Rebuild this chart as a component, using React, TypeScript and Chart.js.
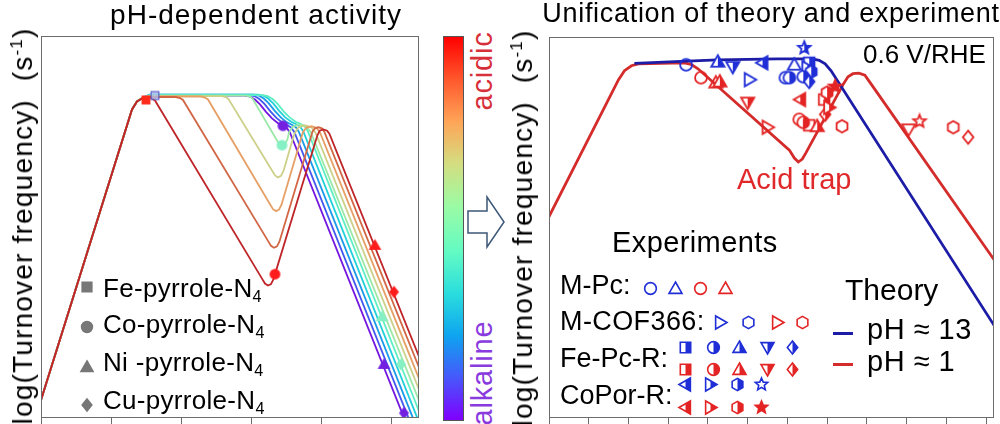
import React, { useEffect, useMemo, useRef } from "react";
import { Chart, registerables } from "chart.js";

Chart.register(...registerables);

const FONT = '"Liberation Sans", Arial, Helvetica, sans-serif';

type Pt = [number, number];
type Shape = "circle" | "square" | "diamond" | "triUp" | "triDown" | "triLeft" | "triRight" | "hexagon" | "star";
type Fill = "open" | "half" | "full" | "tint";
interface Mk { x: number; y: number; s: Shape; f: Fill; c: string; }

// ---------------- Left panel: pH-dependent activity ----------------
// x: descriptor (arb. units), y: log(TOF) (arb. units)
const leftTickVals = [0, 7, 14, 21, 28, 35];
const sharedRise: Pt[] = [[-0.5, 0.2], [9.1, 31.1], [9.6, 31.9]];
// alkaline (0) -> acidic (9)
const curve0: Pt[] = [[10.2, 32.3], [10.9, 32.5], [20.4, 32.5], [20.9, 32.4], [21.4, 32.1], [21.9, 31.6], [22.5, 30.85], [23.1, 30.2], [23.7, 29.7], [24.2, 29.45], [24.6, 29.2], [24.9, 28.75], [36.67, -0.9]];
const curve1: Pt[] = [[10.2, 32.3], [10.9, 32.55], [20.84, 32.55], [21.34, 32.45], [21.84, 32.15], [22.34, 31.65], [22.94, 30.9], [23.54, 30.25], [24.14, 29.75], [24.64, 29.5], [25.04, 29.25], [25.34, 28.8], [37.11, -0.9]];
const curve2: Pt[] = [[10.2, 32.3], [10.9, 32.6], [21.28, 32.6], [21.78, 32.5], [22.28, 32.2], [22.78, 31.7], [23.38, 30.95], [23.98, 30.3], [24.58, 29.8], [25.08, 29.55], [25.48, 29.3], [25.78, 28.85], [37.55, -0.9]];
const curve3: Pt[] = [[10.2, 32.3], [10.9, 32.6], [21.72, 32.6], [22.22, 32.5], [22.72, 32.2], [23.22, 31.7], [23.82, 30.95], [24.42, 30.3], [25.02, 29.85], [25.52, 29.6], [25.92, 29.35], [26.22, 28.9], [37.99, -0.9]];
const curve4: Pt[] = [[10.2, 32.3], [10.9, 32.55], [22.16, 32.55], [22.66, 32.45], [23.16, 32.15], [23.66, 31.65], [24.26, 30.9], [24.86, 30.3], [25.46, 29.85], [25.96, 29.65], [26.36, 29.4], [26.66, 28.95], [38.43, -0.9]];
const curve5: Pt[] = [[10.2, 32.3], [10.9, 32.5], [20.5, 32.5], [20.9, 32.4], [21.15, 32.2], [23.5, 28.15], [23.8, 27.65], [24.1, 27.45], [24.4, 27.6], [24.65, 28.1], [24.8, 28.8], [25.2, 29.38], [25.87, 29.6], [26.54, 29.38], [26.98, 28.81], [38.87, -0.9]];
const curve6: Pt[] = [[10.2, 32.3], [10.9, 32.45], [18.1, 32.45], [18.5, 32.35], [18.75, 32.15], [23.1, 24.95], [23.4, 24.45], [23.7, 24.25], [24.0, 24.4], [24.25, 24.9], [25.32, 28.6], [25.74, 29.3], [26.39, 29.5], [27.04, 29.3], [27.46, 28.74], [39.31, -0.9]];
const curve7: Pt[] = [[10.2, 32.3], [10.9, 32.4], [16.0, 32.4], [16.4, 32.3], [16.7, 32.1], [22.9, 21.55], [23.2, 21.05], [23.5, 20.85], [23.8, 21.0], [24.05, 21.5], [26.19, 28.8], [26.52, 29.24], [27.04, 29.4], [27.56, 29.24], [27.89, 28.8], [39.75, -0.9]];
const curve8: Pt[] = [[10.2, 32.3], [10.9, 32.35], [13.5, 32.35], [13.9, 32.25], [14.2, 32.05], [22.7, 17.85], [23.0, 17.35], [23.3, 17.15], [23.6, 17.3], [23.85, 17.8], [27.16, 28.89], [27.39, 29.19], [27.74, 29.3], [28.09, 29.19], [28.32, 28.89], [40.19, -0.9]];
const curve9: Pt[] = [[10.2, 32.25], [10.9, 32.3], [11.4, 32.0], [22.1, 14.05], [22.4, 13.55], [22.7, 13.35], [23.0, 13.5], [23.25, 14.0], [27.64, 28.5], [27.87, 28.96], [28.24, 29.08], [28.61, 28.96], [28.84, 28.65], [40.63, -0.9]];
const leftCurves = [curve0, curve1, curve2, curve3, curve4, curve5, curve6, curve7, curve8, curve9];
const leftColors = ["#7418e0", "#4458ee", "#1a9ae8", "#22d0da", "#5eeec4", "#9ce8a6", "#ccd088", "#e6a066", "#d26644", "#be2428"];

const MRED = "#ff1c1c";
const MMINT = "#86f0c4";
const MPURP = "#7420e0";
const feMarkers: Mk[] = [
  { x: 10.5, y: 32.05, s: "square", f: "full", c: "#ff2a1a" },
  { x: 11.4, y: 32.5, s: "square", f: "tint", c: "#6060c8" },
];
const coMarkers: Mk[] = [
  { x: 23.4, y: 14.5, s: "circle", f: "full", c: MRED },
  { x: 24.1, y: 27.5, s: "circle", f: "full", c: MMINT },
  { x: 24.2, y: 29.45, s: "circle", f: "full", c: MPURP },
];
const niMarkers: Mk[] = [
  { x: 33.4, y: 17.4, s: "triUp", f: "full", c: MRED },
  { x: 34.1, y: 10.2, s: "triUp", f: "full", c: MMINT },
  { x: 34.3, y: 5.4, s: "triUp", f: "full", c: MPURP },
];
const cuMarkers: Mk[] = [
  { x: 35.3, y: 12.7, s: "diamond", f: "full", c: MRED },
  { x: 36.0, y: 5.4, s: "diamond", f: "full", c: MMINT },
  { x: 36.3, y: 0.5, s: "diamond", f: "full", c: MPURP },
];
const leftLegendLabels = ["Fe-pyrrole-N", "Co-pyrrole-N", "Ni -pyrrole-N", "Cu-pyrrole-N"];
const leftLegendShapes: Shape[] = ["square", "circle", "triUp", "diamond"];

// ---------------- Right panel: theory vs experiment ----------------
const rightTickVals = [0, 1, 2, 3, 4, 5, 6, 7, 8, 9, 10, 11];
const theoryAcid: Pt[] = [[-0.125, 19.31], [1.75, 34.1], [1.9, 35.0], [2.075, 35.5], [2.25, 35.7], [3.4, 35.8], [3.575, 35.65], [3.75, 35.2], [6.05, 27.0], [6.175, 26.2], [6.275, 25.8], [6.375, 26.1], [6.4625, 26.7], [7.4, 33.6], [7.525, 34.4], [7.65, 34.7], [7.8, 34.75], [7.95, 34.55], [8.1, 33.7], [14.145, -0.9]];
const theoryAlk: Pt[] = [[2.15, 35.75], [3.325, 35.95], [4.25, 36.1], [5.75, 36.2], [6.625, 36.2], [6.8, 36.05], [6.95, 35.7], [7.1, 35.0], [12.8375, -0.9]];
const BLUE = "#1f2ed6";
const RED = "#e42424";
const LINE_BLUE = "#1c1ca6";
const LINE_RED = "#d42b2b";

const alkExp: Mk[] = [
  { x: 3.45, y: 35.6, s: "circle", f: "open", c: BLUE },
  { x: 4.25, y: 35.9, s: "triUp", f: "half", c: BLUE },
  { x: 4.625, y: 35.4, s: "triDown", f: "half", c: BLUE },
  { x: 5.375, y: 35.8, s: "triLeft", f: "half", c: BLUE },
  { x: 6.175, y: 35.6, s: "triUp", f: "open", c: BLUE },
  { x: 6.425, y: 37.3, s: "star", f: "half", c: BLUE },
  { x: 5.05, y: 34.1, s: "triRight", f: "open", c: BLUE },
  { x: 5.95, y: 34.3, s: "circle", f: "open", c: BLUE },
  { x: 6.05, y: 34.3, s: "circle", f: "half", c: BLUE },
  { x: 6.55, y: 35.8, s: "square", f: "half", c: BLUE },
  { x: 6.5, y: 35.3, s: "triRight", f: "half", c: BLUE },
  { x: 6.6, y: 34.9, s: "hexagon", f: "half", c: BLUE },
  { x: 6.4, y: 34.4, s: "circle", f: "half", c: BLUE },
  { x: 6.55, y: 33.9, s: "diamond", f: "half", c: BLUE },
];
const acidExp: Mk[] = [
  { x: 3.825, y: 34.3, s: "circle", f: "open", c: RED },
  { x: 4.2, y: 33.8, s: "triUp", f: "open", c: RED },
  { x: 4.3, y: 33.9, s: "triUp", f: "half", c: RED },
  { x: 5.0, y: 31.8, s: "triDown", f: "half", c: RED },
  { x: 5.5, y: 29.3, s: "triRight", f: "open", c: RED },
  { x: 6.325, y: 32.1, s: "triLeft", f: "half", c: RED },
  { x: 6.925, y: 32.1, s: "square", f: "half", c: RED },
  { x: 7.0, y: 32.8, s: "hexagon", f: "half", c: RED },
  { x: 7.2, y: 33.4, s: "star", f: "full", c: RED },
  { x: 6.3, y: 30.1, s: "circle", f: "open", c: RED },
  { x: 6.4, y: 29.8, s: "circle", f: "half", c: RED },
  { x: 6.55, y: 29.5, s: "square", f: "open", c: RED },
  { x: 6.75, y: 29.4, s: "triUp", f: "half", c: RED },
  { x: 6.95, y: 30.6, s: "diamond", f: "half", c: RED },
  { x: 7.05, y: 31.3, s: "triRight", f: "half", c: RED },
  { x: 7.375, y: 29.4, s: "hexagon", f: "open", c: RED },
  { x: 9.05, y: 29.1, s: "triDown", f: "open", c: RED },
  { x: 9.325, y: 29.9, s: "star", f: "open", c: RED },
  { x: 10.175, y: 29.3, s: "hexagon", f: "open", c: RED },
  { x: 10.55, y: 28.3, s: "diamond", f: "open", c: RED },
];

const mpcShapes: Shape[] = ["circle", "triUp"];
const cofShapes: Shape[] = ["triRight", "hexagon"];
const fepcShapes: Shape[] = ["square", "circle", "triUp", "triDown", "diamond"];
const coporShapes: Shape[] = ["triLeft", "triRight", "hexagon", "star"];

// ---------------- marker drawing ----------------
function shapePath(ctx: CanvasRenderingContext2D, s: Shape, r: number) {
  ctx.beginPath();
  const poly = (pts: number[][]) => {
    pts.forEach(([x, y], i) => (i ? ctx.lineTo(x, y) : ctx.moveTo(x, y)));
    ctx.closePath();
  };
  switch (s) {
    case "circle": ctx.arc(0, 0, r * 0.9, 0, Math.PI * 2); break;
    case "square": ctx.rect(-r * 0.8, -r * 0.8, r * 1.6, r * 1.6); break;
    case "diamond": poly([[0, -r], [r * 0.8, 0], [0, r], [-r * 0.8, 0]]); break;
    case "triUp": poly([[0, -r], [r, r * 0.75], [-r, r * 0.75]]); break;
    case "triDown": poly([[0, r], [r, -r * 0.75], [-r, -r * 0.75]]); break;
    case "triLeft": poly([[-r, 0], [r * 0.75, -r], [r * 0.75, r]]); break;
    case "triRight": poly([[r, 0], [-r * 0.75, -r], [-r * 0.75, r]]); break;
    case "hexagon": {
      const p: number[][] = [];
      for (let k = 0; k < 6; k++) { const a = -Math.PI / 2 + (k * Math.PI) / 3; p.push([r * 0.95 * Math.cos(a), r * 0.95 * Math.sin(a)]); }
      poly(p); break;
    }
    case "star": {
      const p: number[][] = [];
      for (let k = 0; k < 10; k++) { const a = -Math.PI / 2 + (k * Math.PI) / 5; const rr = k % 2 ? r * 0.45 : r; p.push([rr * Math.cos(a), rr * Math.sin(a)]); }
      poly(p); break;
    }
  }
}

const markerCache = new Map<string, HTMLCanvasElement>();
function marker(s: Shape, f: Fill, c: string, r: number, lw = 1.4): HTMLCanvasElement {
  const key = [s, f, c, r, lw].join("|");
  const hit = markerCache.get(key);
  if (hit) return hit;
  const cv = document.createElement("canvas");
  const size = Math.ceil(r * 2 + 4);
  cv.width = size;
  cv.height = size;
  const ctx = cv.getContext("2d")!;
  ctx.translate(size / 2, size / 2);
  ctx.lineWidth = lw;
  ctx.strokeStyle = c;
  ctx.lineJoin = "miter";
  if (f === "full") {
    shapePath(ctx, s, r); ctx.fillStyle = c; ctx.fill(); ctx.stroke();
  } else if (f === "open") {
    shapePath(ctx, s, r); ctx.stroke();
  } else if (f === "tint") {
    shapePath(ctx, s, r); ctx.fillStyle = "rgba(175,195,240,0.75)"; ctx.fill(); ctx.stroke();
  } else {
    shapePath(ctx, s, r); ctx.fillStyle = "#ffffff"; ctx.fill();
    ctx.save();
    ctx.beginPath(); ctx.rect(0, -size, size, size * 2); ctx.clip();
    shapePath(ctx, s, r); ctx.fillStyle = c; ctx.fill();
    ctx.restore();
    shapePath(ctx, s, r); ctx.stroke();
  }
  markerCache.set(key, cv);
  return cv;
}

const framePlugin = {
  id: "frame",
  afterDraw(chart: any) {
    const { ctx, chartArea: a } = chart;
    ctx.save();
    ctx.strokeStyle = "#6c6c6c";
    ctx.lineWidth = 1;
    ctx.strokeRect(Math.round(a.left) + 0.5, Math.round(a.top) + 0.5, Math.round(a.right - a.left) - 1, Math.round(a.bottom - a.top) - 1);
    ctx.restore();
  },
};

function toXY(p: Pt[]) { return p.map(([x, y]) => ({ x, y })); }

function xAxis(max: number, ticks: number[]) {
  return {
    type: "linear", min: 0, max,
    ticks: { display: false },
    grid: { display: true, drawOnChartArea: false, drawTicks: true, tickLength: 6, color: "#6c6c6c", lineWidth: 1 },
    border: { display: false },
    afterBuildTicks: (s: any) => { s.ticks = ticks.map((v) => ({ value: v })); },
    afterFit: (s: any) => { s.height = 0; },
  };
}

function baseOptions(pad: any, xMax: number, yMax: number, ticks: number[]) {
  return {
    animation: false,
    responsive: false,
    events: [],
    layout: { padding: pad },
    plugins: { legend: { display: false }, tooltip: { enabled: false } },
    scales: {
      x: xAxis(xMax, ticks),
      y: { type: "linear", min: 0, max: yMax, display: false },
    },
  };
}

function leftConfig(): any {
  const mk = [...feMarkers, ...coMarkers, ...niMarkers, ...cuMarkers];
  const datasets: any[] = [
    {
      data: mk.map((m) => ({ x: m.x, y: m.y })),
      pointStyle: mk.map((m) => marker(m.s, m.f, m.c, m.s === "square" ? 4.8 : 5.3, 1.2)),
      pointRadius: 5, showLine: false,
    },
  ];
  for (let i = leftCurves.length - 1; i >= 0; i--) {
    datasets.push({
      data: toXY([...sharedRise, ...leftCurves[i]]),
      showLine: true, borderColor: leftColors[i], borderWidth: 1.8, pointRadius: 0, tension: 0,
    });
  }
  return {
    type: "scatter",
    data: { datasets },
    options: baseOptions({ left: 41, top: 36, right: 21, bottom: 3 }, 37.8, 38.5, leftTickVals),
    plugins: [framePlugin],
  };
}

function rightConfig(): any {
  const mk = [...alkExp, ...acidExp];
  const datasets: any[] = [
    {
      data: mk.map((m) => ({ x: m.x, y: m.y })),
      pointStyle: mk.map((m) => marker(m.s, m.f, m.c, 6.6, 1.8)),
      pointRadius: 5, showLine: false,
    },
    { data: toXY(theoryAlk), showLine: true, borderColor: LINE_BLUE, borderWidth: 2.8, pointRadius: 0, tension: 0 },
    { data: toXY(theoryAcid), showLine: true, borderColor: LINE_RED, borderWidth: 2.8, pointRadius: 0, tension: 0 },
  ];
  return {
    type: "scatter",
    data: { datasets },
    options: baseOptions({ left: 19, top: 37, right: 3, bottom: 3 }, 11.2, 38.4, rightTickVals),
    plugins: [framePlugin],
  };
}

function ChartCanvas({ make, left, width }: { make: () => any; left: number; width: number }) {
  const ref = useRef<HTMLCanvasElement>(null);
  useEffect(() => {
    const chart = new Chart(ref.current!, make());
    return () => chart.destroy();
  }, []);
  return <canvas ref={ref} width={width} height={424} style={{ position: "absolute", left, top: 0, width, height: 424 }} />;
}

function T({ x, y, size, color = "#000", anchor = "start", ls = 0, children }: any) {
  const style: any = {
    position: "absolute", left: x, top: y - size * 0.8465, fontSize: size, lineHeight: size + "px",
    color, whiteSpace: "nowrap", letterSpacing: ls,
  };
  if (anchor === "middle") style.transform = "translateX(-50%)";
  return <div style={style}>{children}</div>;
}

function VT({ cx, cy, size, color = "#000", ls = 0, children }: any) {
  return (
    <div style={{
      position: "absolute", left: cx, top: cy, fontSize: size, lineHeight: size + "px", color,
      whiteSpace: "nowrap", letterSpacing: ls, transform: "translate(-50%, -50%) rotate(-90deg)",
    }}>{children}</div>
  );
}

function Glyph({ cx, cy, url, size }: { cx: number; cy: number; url: string; size: number }) {
  return <img src={url} style={{ position: "absolute", left: cx - size / 2, top: cy - size / 2, width: size, height: size }} />;
}

const Sub = ({ children }: any) => (
  <span style={{ fontSize: "0.62em", verticalAlign: "-0.3em", lineHeight: 0 }}>{children}</span>
);
const Sup = ({ children }: any) => (
  <span style={{ fontSize: "0.6em", verticalAlign: "0.6em", lineHeight: 0 }}>{children}</span>
);

export default function App() {
  const glyphs = useMemo(() => {
    const g = (s: Shape, f: Fill, c: string, r: number) => {
      const cv = marker(s, f, c, r, 1.6);
      return { url: cv.toDataURL(), size: cv.width };
    };
    const items: { cx: number; cy: number; url: string; size: number }[] = [];
    // left legend
    const leftY = [287, 327, 367, 405];
    leftLegendShapes.forEach((s, i) => items.push({ cx: 87, cy: leftY[i], ...g(s, "full", "#777777", 6) }));
    // M-Pc
    [650, 675, 700, 725].forEach((x, i) => items.push({ cx: x, cy: 288, ...g(mpcShapes[i % 2], "open", i < 2 ? BLUE : RED, 6.5) }));
    // M-COF366
    [720, 748, 777, 802].forEach((x, i) => items.push({ cx: x, cy: 322, ...g(cofShapes[i % 2], "open", i < 2 ? BLUE : RED, 6.5) }));
    // Fe-Pc-R
    [685, 713, 739, 767, 792].forEach((x, i) => {
      items.push({ cx: x, cy: 347, ...g(fepcShapes[i], "half", BLUE, 6.5) });
      items.push({ cx: x, cy: 369, ...g(fepcShapes[i], "half", RED, 6.5) });
    });
    // CoPor-R
    [685, 710, 737, 761].forEach((x, i) => {
      items.push({ cx: x, cy: 384, ...g(coporShapes[i], i === 3 ? "open" : "half", BLUE, 6.5) });
      items.push({ cx: x, cy: 407, ...g(coporShapes[i], i === 3 ? "full" : "half", RED, 6.5) });
    });
    return items;
  }, []);

  const gradient =
    "linear-gradient(to bottom, #ff0000 0%, #ff572c 11%, #ffa457 22%, #d4dd80 33%, #9cfba4 44%, #63fbc3 56%, #2adddd 67%, #0ea4f0 78%, #4757fb 89%, #8000ff 100%)";

  return (
    <div style={{ position: "fixed", left: 0, top: 0, width: 1000, height: 424, background: "#fff", fontFamily: FONT, overflow: "hidden" }}>
      <ChartCanvas make={leftConfig} left={0} width={440} />
      <ChartCanvas make={rightConfig} left={530} width={470} />

      {/* titles */}
      <T x={256} y={25} size={28} ls={1} anchor="middle">pH-dependent activity</T>
      <T x={771} y={23} size={27} ls={0.7} anchor="middle">Unification of theory and experiment</T>

      {/* y labels */}
      <VT cx={23} cy={226} size={28} ls={1.2}>log(Turnover frequency)&nbsp; (s<Sup>-1</Sup>)</VT>
      <VT cx={523} cy={228} size={28} ls={1.2}>log(Turnover frequency)&nbsp; (s<Sup>-1</Sup>)</VT>

      {/* colour bar */}
      <div style={{ position: "absolute", left: 443, top: 36, width: 19, height: 383, background: gradient, border: "1px solid #555" }} />
      <VT cx={482} cy={71} size={29} color="#d8303a" ls={0.8}>acidic</VT>
      <VT cx={482} cy={373} size={29} color="#8a3be0" ls={0.8}>alkaline</VT>

      {/* arrow */}
      <svg width={60} height={70} style={{ position: "absolute", left: 460, top: 190 }}>
        <polygon points="8,21 27,21 27,7 44,32 27,57 27,43 8,43" fill="#fff" stroke="#3d5878" strokeWidth={1.5} strokeLinejoin="miter" />
      </svg>

      {/* left legend */}
      {leftLegendLabels.map((l, i) => (
        <T key={l} x={103} y={[297, 333, 371, 409][i]} size={26} ls={0.3}>{l}<Sub>4</Sub></T>
      ))}

      {/* right annotations */}
      <T x={863} y={63} size={26}>0.6 V/RHE</T>
      <T x={737} y={190} size={29} color="#e0282a">Acid trap</T>
      <T x={612} y={253} size={29} ls={0.4}>Experiments</T>
      <T x={560} y={295} size={27}>M-Pc:</T>
      <T x={560} y={331} size={27} ls={0.4}>M-COF366:</T>
      <T x={560} y={368} size={27}>Fe-Pc-R:</T>
      <T x={560} y={405} size={27}>CoPor-R:</T>
      <T x={845} y={300} size={30}>Theory</T>
      <div style={{ position: "absolute", left: 833, top: 332, width: 20, height: 3, background: LINE_BLUE }} />
      <div style={{ position: "absolute", left: 833, top: 363, width: 20, height: 3, background: LINE_RED }} />
      <T x={867} y={340} size={29} ls={0.5}>pH ≈ 13</T>
      <T x={867} y={372} size={29} ls={0.5}>pH ≈ 1</T>

      {glyphs.map((g, i) => <Glyph key={i} {...g} />)}
    </div>
  );
}
